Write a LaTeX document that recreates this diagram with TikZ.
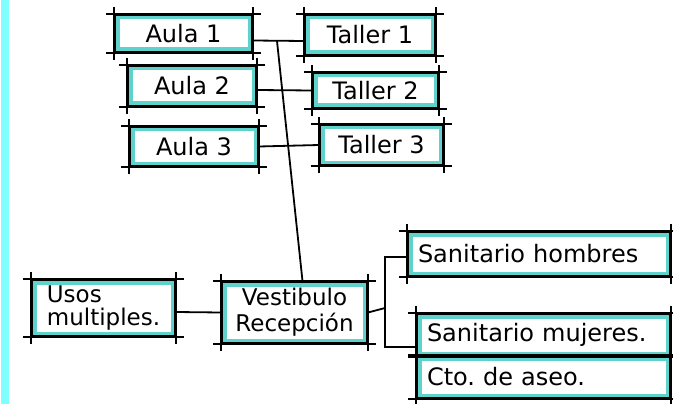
\documentclass[tikz,border=0pt]{standalone}
\usepackage{fontspec}
\setmainfont{DejaVu Sans}
\usetikzlibrary{positioning}
\definecolor{marker}{HTML}{5FD3CB}
\definecolor{stripcyan}{HTML}{80FFFF}

\begin{document}
\begin{tikzpicture}[x=1pt,y=-1pt,
  room/.style={draw=black,line width=2pt,fill=white,inner sep=4pt,
    font=\fontsize{24}{28}\selectfont,
    path picture={\draw[marker,line width=9pt]
      (path picture bounding box.south west) rectangle (path picture bounding box.north east);}},
  wide/.style={room,align=left,inner xsep=10pt},
  link/.style={line width=1.8pt}]
\useasboundingbox (0,0) rectangle (673,404);
\fill[stripcyan] (1,0) rectangle (9,404);
% aulas y talleres
\node[room,minimum width=137pt,minimum height=37pt] (aula1) at (183.5,33.5) {Aula 1};
\node[room,minimum width=128pt,minimum height=40pt] (aula2) at (192,86) {Aula 2};
\node[room,minimum width=128pt,minimum height=39pt] (aula3) at (194,146.5) {Aula 3};
\node[room,minimum width=130pt,minimum height=40pt] (taller1) at (370,35) {Taller 1};
\node[room,minimum width=125pt,minimum height=35pt] (taller2) at (375.5,90.5) {Taller 2};
\node[room,minimum width=123pt,minimum height=40pt] (taller3) at (381.5,145) {Taller 3};
% planta baja
\node[room,align=left,inner sep=3pt,font=\fontsize{23}{23}\selectfont,minimum width=143pt,minimum height=56pt] (usos) at (103.5,308) {Usos\\multiples.};
\node[room,align=center,font=\fontsize{23}{26}\selectfont,minimum width=145pt,minimum height=61pt] (vest) at (294.5,312.5) {Vestibulo\\Recepción};
\node[wide,text width=242pt,minimum height=44pt] (sanH) at (539,254) {Sanitario hombres};
\node[wide,text width=233pt,minimum height=42pt] (sanM) at (543.5,335) {Sanitario mujeres.};
\node[wide,text width=233pt,minimum height=42pt] (cto) at (543.5,377) {Cto.\ de aseo.};
% trazos que sobresalen
\foreach \r in {aula1,aula2,aula3,taller1,taller2,taller3,usos,vest,sanH,sanM,cto} {
  \draw[link] ([xshift=-8pt]\r.north west) -- ([xshift=8pt]\r.north east)
              ([xshift=-8pt]\r.south west) -- ([xshift=8pt]\r.south east)
              ([yshift=7pt]\r.north west) -- ([yshift=-7pt]\r.south west)
              ([yshift=7pt]\r.north east) -- ([yshift=-7pt]\r.south east);
}
% conexiones
\coordinate (top) at (277,41);
\coordinate (fork) at (385,308);
\draw[link] ([yshift=-7pt]aula1.east) -- ([yshift=-6pt]taller1.west);
\draw[link] ([yshift=-4pt]aula2.east) -- (taller2.west);
\draw[link] (aula3.east) -- (taller3.west);
\draw[link] (top) -- ([xshift=8pt]vest.north);
\draw[link] ([yshift=-4pt]usos.east) -- (vest.west);
\draw[link] (vest.east) -- (fork);
\draw[link] ([yshift=-3pt]sanH.west) -| (fork) |- ([yshift=-12pt]sanM.west);
\end{tikzpicture}
\end{document}
